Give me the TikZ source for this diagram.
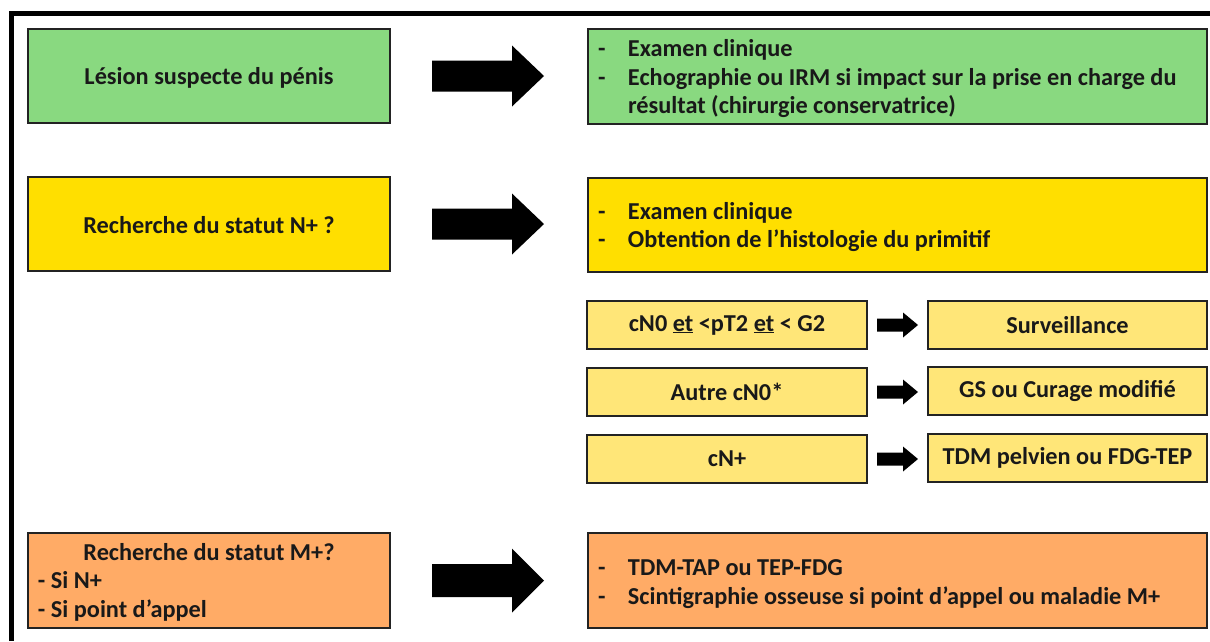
\documentclass[tikz,border=0pt]{standalone}
\usepackage{fontspec}
\setmainfont{Carlito}
\usetikzlibrary{calc}

\definecolor{boxgreen}{RGB}{137,217,128}
\definecolor{boxyellow}{RGB}{255,223,0}
\definecolor{boxpale}{RGB}{255,230,120}
\definecolor{boxorange}{RGB}{255,171,102}
\definecolor{edgegray}{RGB}{35,35,35}
\definecolor{inkgray}{RGB}{25,25,25}

% block arrow between two named coordinates:
% #1 tail, #2 tip, #3 half shaft width, #4 half head width, #5 head length
\newcommand\blockarr[5]{%
  \fill[black] ($(#1)+(0,-#3)$) -- ($(#2)+(-#5,-#3)$) -- ($(#2)+(-#5,-#4)$)
    -- (#2) -- ($(#2)+(-#5,#4)$) -- ($(#2)+(-#5,#3)$) -- ($(#1)+(0,#3)$) -- cycle;}

\newcommand\boxfont{\fontsize{24.3}{28.5}\selectfont\bfseries}

\begin{document}
\begin{tikzpicture}[x=1pt,y=-1pt,
  box/.style={draw=edgegray,line width=1.8pt,rectangle,inner sep=0pt,outer sep=0pt,
    text=inkgray,font=\boxfont},
  bigbox/.style={box,minimum width=362pt,minimum height=94pt},
  widebox/.style={box,minimum width=619pt,minimum height=95pt},
  smallbox/.style={box,minimum width=280pt,minimum height=48pt},
  txt/.style={inner sep=0pt,outer sep=0pt,text=inkgray,font=\boxfont}]
\useasboundingbox (0,0) rectangle (1210,641);

% outer frame (open to the right and bottom)
\draw[line width=4.5pt] (11.5,641) -- (11.5,13.5) -- (1210,13.5);

% left column
\node[bigbox,fill=boxgreen] (L1) at (209,76) {};
\node[txt] (L1t) at ([yshift=-1.5pt]L1.center) {Lésion suspecte du pénis};
\node[bigbox,fill=boxyellow] (L2) at (209,224) {};
\node[txt] (L2t) at ([yshift=-1.5pt]L2.center) {Recherche du statut N+ ?};
\node[bigbox,fill=boxorange,minimum height=95pt] (L3) at (209,580.5) {};
\node[txt] (L3t) at ([yshift=-2.5pt]L3.center)
  {\begin{tabular}{@{}l@{}}
   \makebox[352pt][c]{Recherche du statut M+?}\\
   \hspace{5pt}- Si N+\\
   \hspace{5pt}- Si point d’appel
   \end{tabular}};

% right column
\node[widebox,fill=boxgreen] (R1) at (897.5,76.5) {};
\node[txt,anchor=west] (R1t) at ([xshift=10pt,yshift=-3pt]R1.west)
  {\begin{tabular}{@{}p{30pt}@{}l@{}}
   - & Examen clinique\\
   - & Echographie ou IRM si impact sur la prise en charge du\\
     & résultat (chirurgie conservatrice)
   \end{tabular}};
\node[widebox,fill=boxyellow,minimum height=94pt] (R2) at (897.5,225) {};
\node[txt,anchor=west] (R2t) at ([xshift=10pt,yshift=-3pt]R2.west)
  {\begin{tabular}{@{}p{30pt}@{}l@{}}
   - & Examen clinique\\
   - & Obtention de l’histologie du primitif
   \end{tabular}};
\node[widebox,fill=boxorange] (R3) at (897.5,580.5) {};
\node[txt,anchor=west] (R3t) at ([xshift=10pt,yshift=-4pt]R3.west)
  {\begin{tabular}{@{}p{30pt}@{}l@{}}
   - & TDM-TAP ou TEP-FDG\\
   - & Scintigraphie osseuse si point d’appel ou maladie M+
   \end{tabular}};

% nodal status branches
\node[smallbox,fill=boxpale] (A1) at (727,325) {cN0 \underline{et} <pT2 \underline{et} < G2};
\node[smallbox,fill=boxpale] (A2) at (727,392) {Autre cN0*};
\node[smallbox,fill=boxpale] (A3) at (727,459) {cN+};
\node[smallbox,fill=boxpale,minimum width=279pt] (B1) at (1067.5,325) {Surveillance};
\node[smallbox,fill=boxpale,minimum width=279pt] (B2) at (1067.5,391) {GS ou Curage modifié};
\node[smallbox,fill=boxpale,minimum width=279pt] (B3) at (1067.5,458) {TDM pelvien ou FDG-TEP};

% arrow end points
\foreach \i in {1,2,3}{
  \coordinate (s\i) at ($(L\i.east)+(42,0)$);
  \coordinate (e\i) at ($(s\i)+(112,0)$);
  \coordinate (ss\i) at ($(A\i.east)+(10,0)$);
  \coordinate (se\i) at ($(ss\i)+(41,0)$);
}
\blockarr{s1}{e1}{15.5}{30.5}{32}
\blockarr{s2}{e2}{15.5}{30.5}{32}
\blockarr{s3}{e3}{16.5}{32}{32}
\blockarr{ss1}{se1}{6.5}{12.5}{15}
\blockarr{ss2}{se2}{6.5}{12.5}{15}
\blockarr{ss3}{se3}{6.5}{12.5}{15}
\end{tikzpicture}
\end{document}
